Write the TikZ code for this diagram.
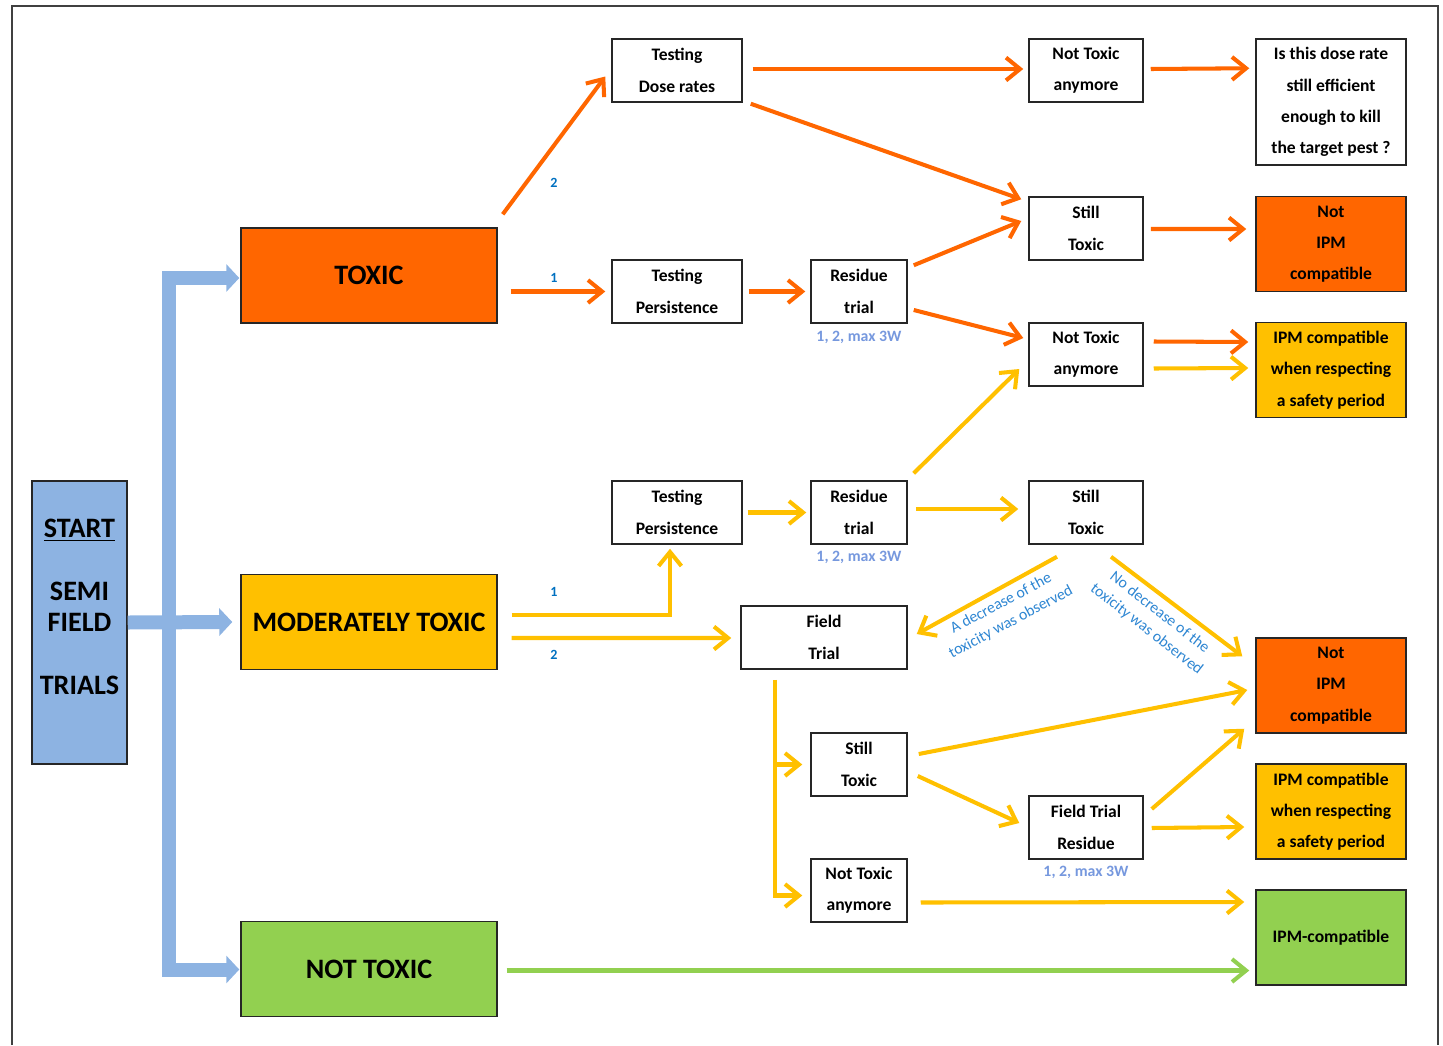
\documentclass[tikz,border=0pt]{standalone}
\usepackage{fontspec}
\setmainfont{Carlito}
\usepackage{tikz}
\usetikzlibrary{
  arrows.meta,
  calc
}
\definecolor{toxicFill}{RGB}{255,102,0}
\definecolor{moderateFill}{RGB}{255,192,0}
\definecolor{safeFill}{RGB}{146,208,80}
\definecolor{startFill}{RGB}{141,179,226}
\definecolor{numBlue}{RGB}{0,112,192}
\definecolor{repBlue}{RGB}{118,152,222}
\definecolor{noteBlue}{RGB}{46,134,210}
\colorlet{ink}{black!85}
\tikzset{
  >={Straight Barb[length=8pt,width=13pt]},
  toxicarrow/.style={->, draw=toxicFill, line width=2.3pt},
  moderatearrow/.style={->, draw=moderateFill, line width=2.3pt},
  safearrow/.style={->, draw=safeFill, line width=2.3pt},
  startarrow/.style={
    draw=startFill,
    line width=0.28cm,
    line join=miter,
    -{Triangle[length=0.26cm,width=0.54cm]}
  },
  startbranch/.style={
    draw=startFill,
    line width=0.28cm,
    line join=miter,
    {Triangle[length=0.26cm,width=0.54cm]}-{Triangle[length=0.26cm,width=0.54cm]}
  },
  stepbox/.style={
    draw=ink,
    fill=white,
    line width=0.85pt,
    minimum width=2.6cm,
    minimum height=1.26cm,
    inner sep=0pt,
    align=center,
    font=\bfseries\fontsize{10}{17.8}\selectfont
  },
  resultbox/.style={
    draw=ink,
    line width=0.85pt,
    minimum width=3.0cm,
    minimum height=1.9cm,
    inner sep=0pt,
    align=center,
    font=\bfseries\fontsize{10}{17.8}\selectfont
  },
  mainbox/.style={
    draw=ink,
    line width=0.85pt,
    minimum width=5.12cm,
    minimum height=1.9cm,
    inner sep=0pt,
    font=\bfseries\fontsize{16}{18}\selectfont
  },
  startbox/.style={
    draw=ink,
    fill=startFill,
    line width=0.85pt,
    minimum width=1.9cm,
    minimum height=5.66cm,
    inner sep=0pt,
    align=center,
    font=\bfseries\fontsize{16}{17.8}\selectfont
  },
  numlabel/.style={font=\bfseries\fontsize{8}{9}\selectfont, text=numBlue},
  replabel/.style={font=\bfseries\fontsize{9}{10}\selectfont, text=repBlue},
  notelabel/.style={font=\fontsize{9}{12}\selectfont, text=noteBlue, align=center, inner sep=0pt},
  frame/.style={draw=black!75, line width=0.8pt}
}

\begin{document}
\begin{tikzpicture}[x=0.02cm,y=-0.02cm]
  \useasboundingbox (0,0) rectangle (1443,1045);
  \draw[frame] (12,1045) -- (12,6) -- (1438,6) -- (1438,1045);

  % start and the three classes
  \node[startbox] (start) at (79.5,622.5) {\underline{START}\\ \mbox{}\\ SEMI\\ FIELD\\ \mbox{}\\ TRIALS\\ \mbox{}};
  \node[mainbox, fill=toxicFill] (toxic) at (369,275.5) {TOXIC};
  \node[mainbox, fill=moderateFill] (moderate) at (369,622) {MODERATELY TOXIC};
  \node[mainbox, fill=safeFill] (nottoxic) at (369,969) {NOT TOXIC};

  \coordinate (split) at (169,622);
  \draw[startarrow] (start.east) -- ($(moderate.west)+(-8,0)$);
  \draw[startbranch] ($(toxic.west)+(-1,2.5)$) -| (split) |- ($(nottoxic.west)+(-1,0.5)$);

  % toxic branch
  \node[stepbox] (dose) at (677,70.5) {Testing\\Dose rates};
  \node[stepbox] (persA) at (677,291.5) {Testing\\Persistence};
  \node[stepbox, minimum width=1.92cm] (residueA) at (859,291.5) {Residue\\trial};
  \node[replabel] (repA) at (859,337) {1, 2, max 3W};
  \node[stepbox, minimum width=2.28cm] (clearA) at (1086,70.5) {Not Toxic\\anymore};
  \node[stepbox, minimum width=2.28cm] (stillA) at (1086,228.5) {Still\\Toxic};
  \node[stepbox, minimum width=2.28cm] (clearB) at (1086,354.5) {Not Toxic\\anymore};
  \node[resultbox, fill=white, minimum height=2.52cm] (question) at (1331,102) {Is this dose rate\\still efficient\\enough to kill\\the target pest ?};
  \node[resultbox, fill=toxicFill] (notipmA) at (1331,244) {Not\\IPM\\compatible};
  \node[resultbox, fill=moderateFill] (periodA) at (1331,370) {IPM compatible\\when respecting\\a safety period};

  \node[numlabel] (twoA) at (554,183) {2};
  \node[numlabel] (oneA) at (554,278) {1};

  \draw[toxicarrow] ($(toxic.north east)+(5,-13)$) -- ($(dose.west)+(-6,6)$);
  \draw[toxicarrow] ($(toxic.east)+(13,16)$) -- ($(persA.west)+(-6,0)$);
  \draw[toxicarrow] ($(persA.east)+(6,0)$) -- ($(residueA.west)+(-5,0)$);
  \draw[toxicarrow] ($(dose.east)+(10,-1.5)$) -- ($(clearA.west)+(-5,-1.5)$);
  \draw[toxicarrow] ($(dose.south east)+(8,1)$) -- ($(stillA.north west)+(-7,3)$);
  \draw[toxicarrow] ($(residueA.north east)+(6,6)$) -- ($(stillA.west)+(-7,-7.5)$);
  \draw[toxicarrow] ($(residueA.east)+(6,18.5)$) -- ($(clearB.west)+(-5,-16.5)$);
  \draw[toxicarrow] ($(clearA.east)+(7,-1.5)$) -- ($(question.north west)+(-6,30)$);
  \draw[toxicarrow] ($(stillA.east)+(7,0.5)$) -- ($(notipmA.west)+(-9,-15)$);
  \draw[toxicarrow] ($(clearB.east)+(10,-13)$) -- ($(periodA.west)+(-7,-28)$);
  \draw[moderatearrow] ($(clearB.east)+(10,14)$) -- ($(periodA.west)+(-7,-2)$);

  % moderately toxic branch
  \node[stepbox] (persB) at (677,512.5) {Testing\\Persistence};
  \node[stepbox, minimum width=1.92cm] (residueB) at (859,512.5) {Residue\\trial};
  \node[replabel] (repB) at (859,557) {1, 2, max 3W};
  \node[stepbox, minimum width=2.28cm] (stillB) at (1086,512.5) {Still\\Toxic};
  \node[stepbox, minimum width=3.32cm] (field) at (824,637.5) {Field\\Trial};
  \node[resultbox, fill=toxicFill] (notipmB) at (1331,685.5) {Not\\IPM\\compatible};
  \node[stepbox, minimum width=1.92cm] (stillC) at (859,764.5) {Still\\Toxic};
  \node[stepbox, minimum width=2.28cm] (fieldres) at (1086,827.5) {Field Trial\\Residue};
  \node[replabel] (repC) at (1086,872) {1, 2, max 3W};
  \node[resultbox, fill=moderateFill] (periodB) at (1331,811.5) {IPM compatible\\when respecting\\a safety period};
  \node[stepbox, minimum width=1.92cm] (clearC) at (859,890.5) {Not Toxic\\anymore};
  \node[resultbox, fill=safeFill] (ipm) at (1331,937.5) {IPM-compatible};

  \node[numlabel] (oneB) at (554,592) {1};
  \node[numlabel] (twoB) at (554,655) {2};
  \node[notelabel, rotate=28] (decrease) at (1006,613) {A decrease of the\\toxicity was observed};
  \node[notelabel, rotate=-38] (nodecrease) at (1153,621) {No decrease of the\\toxicity was observed};

  \draw[moderatearrow] ($(moderate.east)+(14,-7)$) -| ($(persB.south)+(-7,4)$);
  \draw[moderatearrow] ($(moderate.east)+(14,16)$) -- ($(field.west)+(-9,0.5)$);
  \draw[moderatearrow] ($(persB.east)+(5,0)$) -- ($(residueB.west)+(-4,0)$);
  \draw[moderatearrow] ($(residueB.north east)+(6,-7)$) -- ($(clearB.west)+(-9,14.5)$);
  \draw[moderatearrow] ($(residueB.east)+(8,-3.5)$) -- ($(stillB.west)+(-10,-3.5)$);
  \draw[moderatearrow] ($(stillB.south)+(-29,12)$) -- ($(field.east)+(9,-3.5)$);
  \draw[moderatearrow] ($(stillB.south)+(25,12)$) -- ($(notipmB.north west)+(-13,19)$);

  \coordinate (drop) at ($(field.south west)+(35,10)$);
  \draw[moderatearrow] (drop) |- ($(clearC.west)+(-8,5)$);
  \draw[moderatearrow] (drop |- stillC.west) -- ($(stillC.west)+(-8,0)$);
  \draw[moderatearrow] ($(stillC.east)+(11,-10.5)$) -- ($(notipmB.west)+(-8,4.5)$);
  \draw[moderatearrow] ($(stillC.east)+(10,11.5)$) -- ($(fieldres.west)+(-9,-4.5)$);
  \draw[moderatearrow] ($(fieldres.east)+(8,-18.5)$) -- ($(notipmB.south west)+(-11,-5)$);
  \draw[moderatearrow] ($(fieldres.east)+(8,0.5)$) -- ($(periodB.west)+(-11,15.5)$);
  \draw[moderatearrow] ($(clearC.east)+(13,12)$) -- ($(ipm.west)+(-11,-35.5)$);

  % not toxic branch
  \draw[safearrow] ($(nottoxic.east)+(9,1.5)$) -- ($(ipm.west)+(-6,33)$);
\end{tikzpicture}
\end{document}
